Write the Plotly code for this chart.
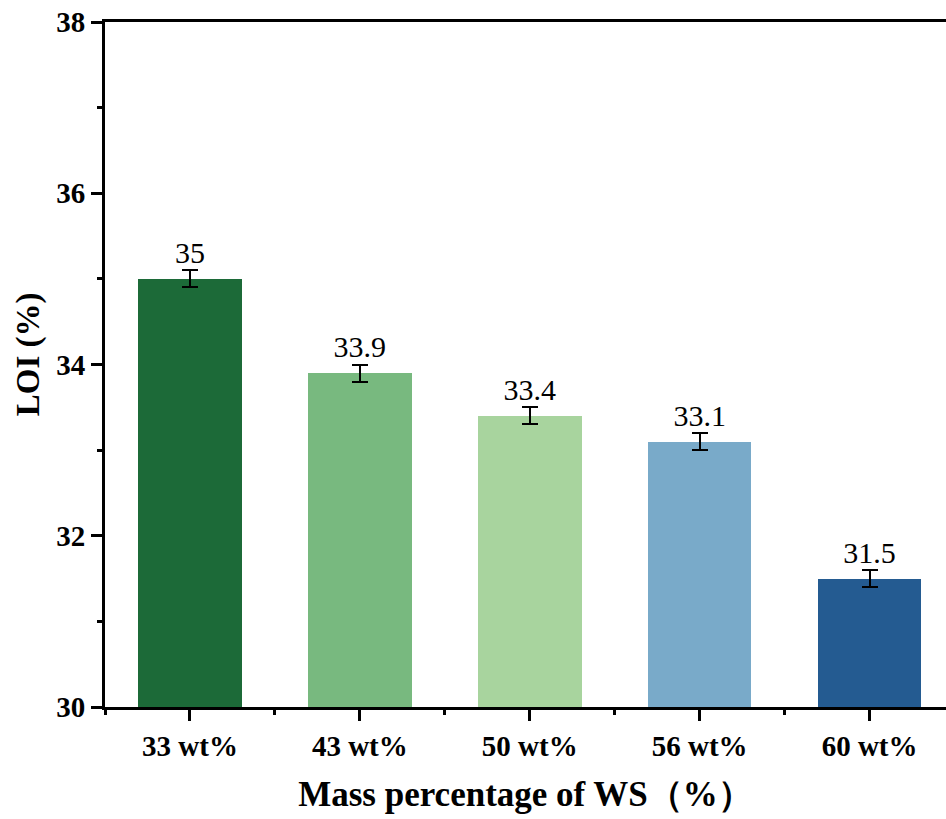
import plotly.graph_objects as go

# --- Data ---
categories = ['33 wt%', '43 wt%', '50 wt%', '56 wt%', '60 wt%']
loi = [35.0, 33.9, 33.4, 33.1, 31.5]
loi_err = [0.1, 0.1, 0.1, 0.1, 0.1]
labels = ['35', '33.9', '33.4', '33.1', '31.5']
colors = ['#1c6a38', '#78b97f', '#a8d49e', '#79aac9', '#245b91']

FONT = '"Liberation Serif", "Times New Roman", serif'
xpos = list(range(len(categories)))

fig = go.Figure()
fig.add_trace(go.Bar(
    x=xpos, y=loi, width=0.61,
    marker=dict(color=colors, line=dict(width=0)),
    error_y=dict(type='data', array=loi_err, color='black', thickness=2, width=8),
    showlegend=False,
))
# value labels above the error bars
fig.add_trace(go.Scatter(
    x=xpos, y=[v + e for v, e in zip(loi, loi_err)],
    mode='text', text=labels, textposition='top center',
    textfont=dict(family=FONT, size=30, color='black'),
    showlegend=False, hoverinfo='skip', cliponaxis=False,
))

fig.update_layout(
    width=946, height=819,
    margin=dict(l=105, r=0, t=22, b=112),
    plot_bgcolor='white', paper_bgcolor='white',
    font=dict(family=FONT, color='black'),
    bargap=0,
)
fig.update_xaxes(
    range=[-0.5, 4.45], automargin=False,
    tickvals=xpos, ticktext=categories, ticklabeloverflow='allow',
    tickfont=dict(family=FONT, size=29, color='black', weight='bold'),
    showline=True, linecolor='black', linewidth=3, mirror=True,
    ticks='outside', ticklen=11, tickwidth=3, tickcolor='black',
    minor=dict(tickvals=[-0.5, 0.5, 1.5, 2.5, 3.5], ticks='outside',
               ticklen=5, tickwidth=3, tickcolor='black'),
    showgrid=False, zeroline=False,
    title=dict(text='Mass percentage of WS（%）', standoff=21,
               font=dict(family=FONT, size=35, color='black', weight='bold')),
)
fig.update_yaxes(
    range=[30, 38], dtick=2, automargin=False, ticklabeloverflow='allow',
    tickfont=dict(family=FONT, size=29, color='black', weight='bold'),
    showline=True, linecolor='black', linewidth=3,
    ticks='outside', ticklen=11, tickwidth=3, tickcolor='black',
    minor=dict(dtick=1, ticks='outside', ticklen=5, tickwidth=3, tickcolor='black'),
    showgrid=False, zeroline=False,
)
# y-axis title, sitting slightly above the plot's vertical centre as in the original
fig.add_annotation(
    text='LOI (%)', textangle=-90, showarrow=False,
    xref='paper', x=0, xanchor='center', xshift=-77,
    yref='paper', y=0.515, yanchor='middle',
    font=dict(family=FONT, size=33, color='black', weight='bold'),
)

# drop the default 8px body margin so the figure fills the window exactly
fig.write_html('out.html', config={'displayModeBar': False},
               post_script="document.body.style.margin='0';")
